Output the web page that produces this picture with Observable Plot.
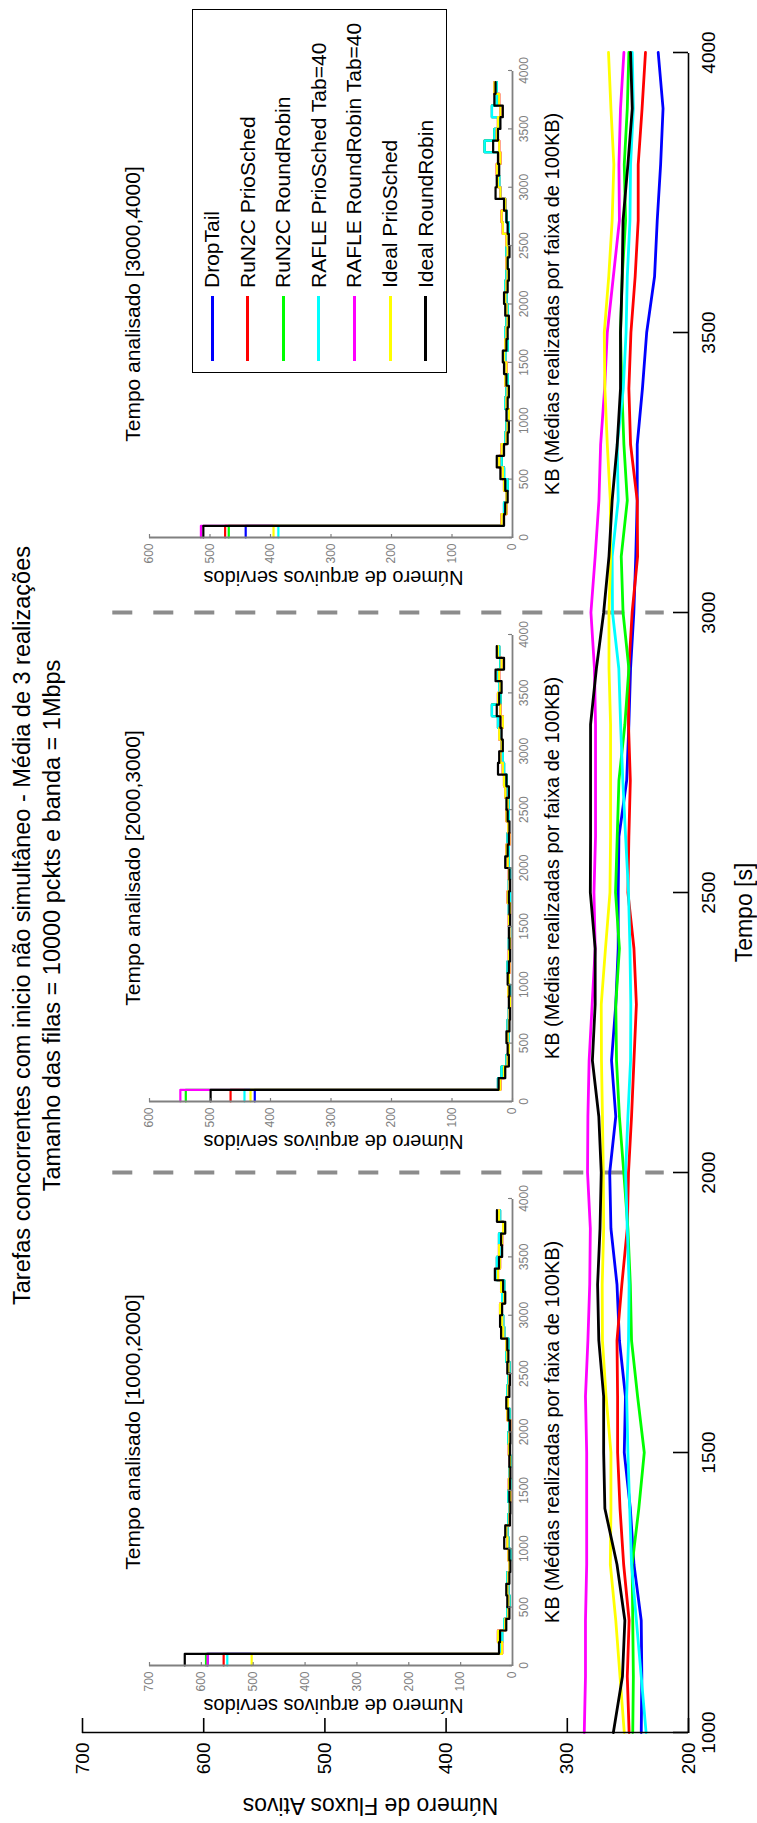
<!DOCTYPE html>
<html><head><meta charset="utf-8">
<script src="https://cdn.jsdelivr.net/npm/d3@7"></script>
<script src="https://cdn.jsdelivr.net/npm/@observablehq/plot@0.6"></script>
<style>
html,body{margin:0;padding:0;background:#fff;}
body{width:757px;height:1823px;overflow:hidden;position:relative;}
#wrap{position:absolute;left:0;top:0;width:1823px;height:757px;transform-origin:0 0;transform:translate(0,1823px) rotate(-90deg);font-family:"Liberation Sans",Arial,sans-serif;background:#fff;}
#wrap > .abs{position:absolute;}
#legenda{position:absolute;left:1450px;top:192px;width:364px;height:255px;border:1.5px solid #000;background:#fff;box-sizing:border-box;}
#legenda .item{position:absolute;left:0;height:0;}
#legenda .sw{position:absolute;left:11px;width:65px;height:3px;top:-1.5px;}
#legenda .tx{position:absolute;left:84px;top:-13px;font-size:21px;line-height:26px;white-space:nowrap;color:#000;}
</style></head><body><div id="wrap"></div>
<script>
// ---------------- data ----------------
const series = ["DropTail","RuN2C PrioSched","RuN2C RoundRobin","RAFLE PrioSched Tab=40","RAFLE RoundRobin Tab=40","Ideal PrioSched","Ideal RoundRobin"];
const cores = ["#0000ff","#ff0000","#00ff00","#00ffff","#ff00ff","#ffff00","#000000"];

const tempo = [1000,1100,1200,1300,1400,1500,1600,1700,1800,1900,2000,2100,2200,2300,2400,2500,2600,2700,2800,2900,3000,3100,3200,3300,3400,3500,3600,3700,3800,3900,4000];
const dropTail   = [239,238.5,239,245,248,253,252,257,259,264,265,260,263.5,260,258,258,257.4,251,249.2,247.8,245.1,243.5,242.3,242.3,238,234.5,228,225.8,223,221,225];
const run2cPrio  = [249,250.5,249,253.5,256.5,258.5,258.5,259,255,250.5,249.5,247,245,243,245,250,249.2,248,249.5,249.2,246.5,242,242.3,247.8,249.2,247.5,244,241.5,241.5,238.3,235.5];
const run2cRR    = [246,245.5,246,246.5,241,236.5,242,247,248,250,253.4,257,259.4,260,257,260.2,258.8,257.4,252.5,249.2,254,255.5,250.5,253.3,255,256.1,254.7,251.9,253,250.5,249.2];
const raflePrio  = [235,239,243,247,248.5,250,251,249.5,249,250.5,251.9,250,247.8,247.6,248.3,249.5,251.9,254.2,256,257.5,262.7,263,258,258.8,253.8,251.5,250.5,248.3,247.8,245.5,246.4];
const rafleRR    = [286,285,285,284,284,284,285,283,281.5,281,283.3,283,282,279.5,277,278,276.7,276.7,276.7,277.6,280.5,277,273.9,272.5,269.2,267,262,257,257.4,256.1,253.3];
const idealPrio  = [253,256.5,260,264.5,264,264,268,271,271.2,270,270.3,271,271.8,272,268.5,264.8,264.3,264.3,264.3,265.6,265.6,264.3,264.5,267,269,269.5,265.8,263,261.6,264,266];
const idealRR    = [262,254.5,252.5,259,269,270,270,274,275,273,272,274,279.3,277,277,281,280.8,280.8,280.8,276,270,265.6,263,258.8,256.1,256.1,254.7,254,250,246.4,247.8];
const valores = [dropTail, run2cPrio, run2cRR, raflePrio, rafleRR, idealPrio, idealRR];

const tempoTicks = [1000,1500,2000,2500,3000,3500,4000];
const fluxoTicks = [200,300,400,500,600,700];
const divisorias = [2000,3000];
const divisoriaFaixa = [675,220];

const titulo1 = "Tarefas concorrentes com inicio não simultâneo - Média de 3 realizações";
const titulo2 = "Tamanho das filas = 10000 pckts e banda = 1Mbps";

// inset histograms (files served per 100KB bin)
const kbTicks = [0,500,1000,1500,2000,2500,3000,3500,4000];
const insetTitulos = ["Tempo analisado [1000,2000]","Tempo analisado [2000,3000]","Tempo analisado [3000,4000]"];
const insetYMax = [700,600,600];
const insetYTicks = [[0,100,200,300,400,500,600,700],[0,100,200,300,400,500,600],[0,100,200,300,400,500,600]];
// first bin (0-100KB) per series, order as `series`
const primeiraFaixa1 = [588,557,591,550,588,503,632];
const primeiraFaixa2 = [426,466,540,443,549,433,499];
const primeiraFaixa3 = [441,475,469,387,515,395,511];
// bins 100KB..3900KB
const cauda1Preto = [26,24,12,6,10,12,6,4,6,16,14,5,4,6,5,4,6,5,4,5,8,12,6,5,10,8,10,22,24,20,14,18,34,26,20,22,14,30];
const cauda1Quente = [20,28,14,8,8,10,8,6,8,10,12,6,5,4,7,5,5,7,6,4,10,9,8,6,8,10,12,18,20,24,16,22,28,24,26,20,18,26];
const cauda1Frio = [22,20,16,10,6,8,10,6,4,8,10,8,6,8,4,6,4,6,8,6,6,10,10,8,6,12,8,16,18,22,20,16,30,30,22,26,18,24];
const cauda2Preto = [23,12,6,8,10,5,4,6,5,8,6,4,5,6,4,5,6,4,5,12,8,6,5,8,10,6,10,24,22,16,18,20,26,22,18,28,14,26];
const cauda2Quente = [20,14,8,6,8,6,5,4,7,6,5,6,4,5,6,4,8,5,6,8,10,5,7,10,8,12,14,16,20,18,22,16,20,24,20,22,18,24];
const cauda2Frio = [24,18,10,6,6,8,6,5,4,6,8,5,6,4,5,6,4,6,4,6,6,8,6,6,6,8,10,14,16,18,20,24,34,20,22,24,20,22];
const cauda3Preto = [14,12,8,12,20,26,14,8,6,10,8,6,10,14,16,10,8,6,12,14,8,6,8,5,6,8,10,14,28,26,22,24,32,24,20,16,30,28];
const cauda3Quente = [18,10,10,14,16,22,18,10,8,6,10,8,12,10,14,12,10,8,10,12,10,8,10,8,10,16,18,12,20,24,26,20,22,26,24,20,22,30];
const cauda3Frio = [16,14,10,8,14,18,16,12,10,8,12,10,8,12,12,8,12,10,8,10,12,10,8,10,8,6,10,12,20,22,24,22,46,30,22,34,26,26];
// which tail each series uses: 0=frio,1=quente,2=preto
const tipoCauda = [0,1,0,0,1,1,2];
const faixasKB = d3.range(0, 4000, 100); // bin edges 0..3900

// ---------------- drawing ----------------
const wrap = document.getElementById("wrap");
const FONT = "Liberation Sans, Arial, sans-serif";

const rows = [];
series.forEach((s, si) => tempo.forEach((t, i) => rows.push({serie: s, t, v: valores[si][i]})));

const W = 1823, H = 757, mL = 90, mR = 53, mT = 82, mB = 69;
const fW = W - mL - mR, fH = H - mT - mB;

const main = Plot.plot({
  width: W, height: H, marginLeft: mL, marginRight: mR, marginTop: mT, marginBottom: mB,
  style: {fontFamily: FONT, fontSize: "19px", background: "transparent", color: "#000", overflow: "visible"},
  x: {domain: [1000, 4000]},
  y: {domain: [200, 700]},
  color: {domain: series, range: cores},
  marks: [
    Plot.axisX({ticks: tempoTicks, tickSize: 0, tickPadding: 13, label: null, tickFormat: d => String(d), fontSize: 19}),
    Plot.axisY({ticks: fluxoTicks, tickSize: 0, tickPadding: 10, label: null, tickFormat: d => String(d), fontSize: 19}),
    Plot.ruleX(divisorias, {x: d => d, y1: divisoriaFaixa[0], y2: divisoriaFaixa[1], stroke: "#8c8c8c", strokeWidth: 4, strokeDasharray: "20,21"}),
    Plot.line(rows, {x: "t", y: "v", z: "serie", stroke: "serie", strokeWidth: 2.8}),
    Plot.ruleY([200], {x1: 1000, x2: 4000, stroke: "#000", strokeWidth: 1.6}),
    Plot.ruleX([1000], {y1: 200, y2: 700, stroke: "#000", strokeWidth: 1.6}),
    Plot.ruleX(tempoTicks, {x: d => d, insetTop: fH - 15, stroke: "#000", strokeWidth: 1.6}),
    Plot.ruleY(fluxoTicks, {y: d => d, insetRight: fW - 15, stroke: "#000", strokeWidth: 1.6}),
    Plot.text(["Tempo [s]"], {text: d => d, frameAnchor: "bottom", textAnchor: "middle", lineAnchor: "top", dx: -20, dy: 47, fontSize: 23, fill: "#000"}),
    Plot.text(["Número de Fluxos Ativos"], {text: d => d, frameAnchor: "left", textAnchor: "middle", rotate: -90, lineAnchor: "middle", dx: -73, dy: -15, fontSize: 23, fill: "#000"}),
    Plot.text([titulo1], {text: d => d, frameAnchor: "top", textAnchor: "middle", lineAnchor: "top", dx: -33, dy: -69, fontSize: 23.5, fill: "#000"}),
    Plot.text([titulo2], {text: d => d, frameAnchor: "top", textAnchor: "middle", lineAnchor: "top", dx: -33, dy: -39, fontSize: 23.5, fill: "#000"})
  ]
});
main.classList.add("abs");
main.style.left = "0px"; main.style.top = "0px";
wrap.appendChild(main);

// insets
const caudas = [[cauda1Frio, cauda1Quente, cauda1Preto],[cauda2Frio, cauda2Quente, cauda2Preto],[cauda3Frio, cauda3Quente, cauda3Preto]];
const primeiras = [primeiraFaixa1, primeiraFaixa2, primeiraFaixa3];
const insetEixoX = [157, 721, 1285];
const iW = 560, iH = 460, iL = 60, iR = 33, iT = 39, iB = 58;
const ifW = iW - iL - iR, ifH = iH - iT - iB;
const GRAY = "#808080";

for (let k = 0; k < 3; k++) {
  const hist = [];
  series.forEach((s, si) => {
    const cauda = caudas[k][tipoCauda[si]];
    const vals = [primeiras[k][si], ...cauda];
    faixasKB.forEach((kb, i) => {
      const n = i < vals.length ? vals[i] : vals[vals.length - 1];
      hist.push({serie: s, kb, n});
    });
  });
  const p = Plot.plot({
    width: iW, height: iH, marginLeft: iL, marginRight: iR, marginTop: iT, marginBottom: iB,
    style: {fontFamily: FONT, fontSize: "12px", background: "transparent", overflow: "visible"},
    x: {domain: [0, 4000]},
    y: {domain: [0, insetYMax[k]]},
    color: {domain: series, range: cores},
    marks: [
      Plot.axisX({ticks: kbTicks, tickSize: 0, tickPadding: 7, label: null, tickFormat: d => String(d), fontSize: 12, color: GRAY}),
      Plot.axisY({ticks: insetYTicks[k], tickSize: 0, tickPadding: 6, label: null, tickFormat: d => String(d), fontSize: 12, color: GRAY}),
      Plot.line(hist, {x: "kb", y: "n", z: "serie", stroke: "serie", curve: "step-after", strokeWidth: 2.2}),
      Plot.ruleY([0], {x1: 0, x2: 4000, stroke: GRAY, strokeWidth: 1.8}),
      Plot.ruleX([0], {y1: 0, y2: insetYMax[k], stroke: GRAY, strokeWidth: 1.8}),
      Plot.ruleX(kbTicks, {x: d => d, insetTop: ifH - 4, stroke: GRAY, strokeWidth: 1.2}),
      Plot.ruleY(insetYTicks[k], {y: d => d, insetRight: ifW - 4, stroke: GRAY, strokeWidth: 1.2}),
      Plot.text([insetTitulos[k]], {text: d => d, frameAnchor: "top", textAnchor: "middle", lineAnchor: "top", dy: -24, fontSize: 21, fill: "#000"}),
      Plot.text(["KB (Médias realizadas por faixa de 100KB)"], {text: d => d, frameAnchor: "bottom", textAnchor: "middle", lineAnchor: "top", dy: 32, fontSize: 20, fill: "#000"}),
      Plot.text(["Número de arquivos servidos"], {text: d => d, frameAnchor: "left", textAnchor: "middle", rotate: -90, lineAnchor: "middle", dx: -40, dy: 2.5, fontSize: 20, fill: "#000"})
    ]
  });
  p.classList.add("abs");
  p.style.left = (insetEixoX[k] - iL) + "px";
  p.style.top = "110px";
  wrap.appendChild(p);
}

// legend
const leg = document.createElement("div");
leg.id = "legenda";
series.forEach((s, i) => {
  const it = document.createElement("div");
  it.className = "item";
  it.style.top = (19 + i * 35.6) + "px";
  const sw = document.createElement("div");
  sw.className = "sw"; sw.style.background = cores[i];
  const tx = document.createElement("div");
  tx.className = "tx"; tx.textContent = s;
  it.appendChild(sw); it.appendChild(tx);
  leg.appendChild(it);
});
wrap.appendChild(leg);
</script></body></html>
